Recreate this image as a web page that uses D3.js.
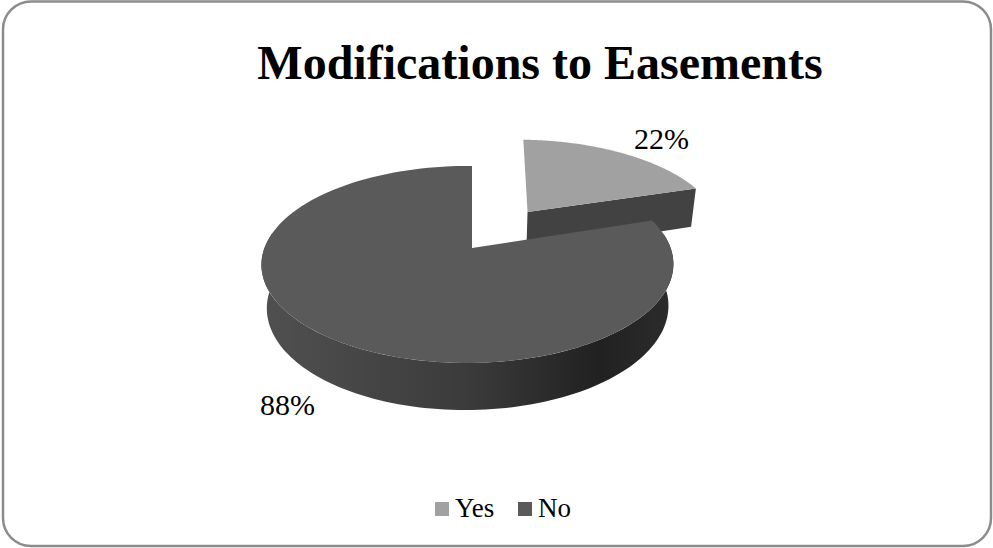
<!DOCTYPE html>
<html>
<head>
<meta charset="utf-8">
<style>
html,body{margin:0;padding:0;background:#fff}
svg{display:block}
text{font-family:"Liberation Serif","Times New Roman",serif;fill:#000}
</style>
<script src="https://cdn.jsdelivr.net/npm/d3@7"></script>
</head>
<body>
<script>
const categories = ["Yes", "No"];
const seriesValues = [22, 88];
const valueLabels = ["22%", "88%"];
const chartTitle = "Modifications to Easements";
const sliceColors = ["#a1a1a1", "#5a5a5a"];

const width = 993, height = 548;
const svg = d3.select("body").append("svg").attr("width", width).attr("height", height);

// Frame
svg.append("rect").attr("x", 3).attr("y", 1.5).attr("width", 988).attr("height", 544.5)
  .attr("rx", 28).attr("ry", 28).attr("fill", "#fff").attr("stroke", "#8c8c8c").attr("stroke-width", 2.5);

svg.append("text").attr("x", 540).attr("y", 79).attr("text-anchor", "middle")
  .attr("font-size", 48).attr("font-weight", "bold").text(chartTitle);

// Perspective view of a disc: u to the right, v towards the viewer, z downwards through the thickness
const view = {cx: 472, cy: 248, rx: 203, ry: 95.7, depth: 43.3, k: 0.167, m: 0.022, c: 0.025};
function project(u, v, z) {
  const w = 1 - view.k * v + view.m * u + view.c * z;
  return [view.cx + view.rx * u / w, view.cy + (view.ry * v + view.depth * z) / w];
}
const rimPoint = (angle, z, off) => project(off.u + Math.sin(angle), off.v - Math.cos(angle), z);

const color = d3.scaleOrdinal().domain(categories).range(sliceColors);
const arcs = d3.pie().sort(null)(seriesValues);
const line = d3.line();
const explode = 0.5;

function sliceOffset(a, amount) {
  const mid = (a.startAngle + a.endAngle) / 2;
  return {u: amount * Math.sin(mid), v: -amount * Math.cos(mid)};
}
function rim(a, z, off) {
  const n = 120;
  return d3.range(n + 1).map(i =>
    rimPoint(a.startAngle + (a.endAngle - a.startAngle) * i / n, z, off));
}

const defs = svg.append("defs");
const wallGrad = defs.append("linearGradient").attr("id", "wallShade")
  .attr("gradientUnits", "userSpaceOnUse").attr("x1", 262).attr("x2", 673).attr("y1", 0).attr("y2", 0);
[[0, "#505050"], [0.5, "#3b3b3b"], [0.82, "#212121"], [1, "#2c2c2c"]].forEach(([o, c]) =>
  wallGrad.append("stop").attr("offset", o).attr("stop-color", c));

// Pulled-out slice: cut face first, then its top
const yes = arcs[0], no = arcs[1];
const yesOff = sliceOffset(yes, explode);
const yesFar = {u: yesOff.u + 0.02, v: yesOff.v};
const apex = (z, off) => project(off.u, off.v, z);
svg.append("path").attr("fill", "#424242")
  .attr("d", line([apex(0, yesOff), rimPoint(yes.endAngle, 0, yesFar),
                   rimPoint(yes.endAngle, 1, yesFar), apex(1, yesOff)]) + "Z");
svg.append("path").attr("fill", color(categories[0]))
  .attr("d", line([apex(0, yesOff), ...rim(yes, 0, yesFar)]) + "Z");

// Main slice: outer wall, then its top
const noOff = {u: 0, v: 0};
const frontWall = {startAngle: Math.PI * 0.45, endAngle: Math.PI * 1.55};
svg.append("path").attr("fill", "url(#wallShade)")
  .attr("d", line([...rim(frontWall, 0, noOff), ...rim(frontWall, 1, noOff).reverse()]) + "Z");
svg.append("path").attr("fill", color(categories[1]))
  .attr("d", line([apex(0, noOff), ...rim(no, 0, noOff)]) + "Z");

// Value labels
const labelPlaces = [{x: 634, y: 149}, {x: 260, y: 415}];
svg.selectAll("text.value").data(valueLabels).join("text").attr("class", "value")
  .attr("x", (d, i) => labelPlaces[i].x).attr("y", (d, i) => labelPlaces[i].y)
  .attr("font-size", 30).text(d => d);

// Legend
const legendX = d3.scaleOrdinal().domain(categories).range([435, 518]);
const legend = svg.selectAll("g.key").data(categories).join("g").attr("class", "key")
  .attr("transform", d => `translate(${legendX(d)},502)`);
legend.append("rect").attr("width", 14).attr("height", 14).attr("fill", d => color(d));
legend.append("text").attr("x", 20).attr("y", 15).attr("font-size", 27).text(d => d);
</script>
</body>
</html>
